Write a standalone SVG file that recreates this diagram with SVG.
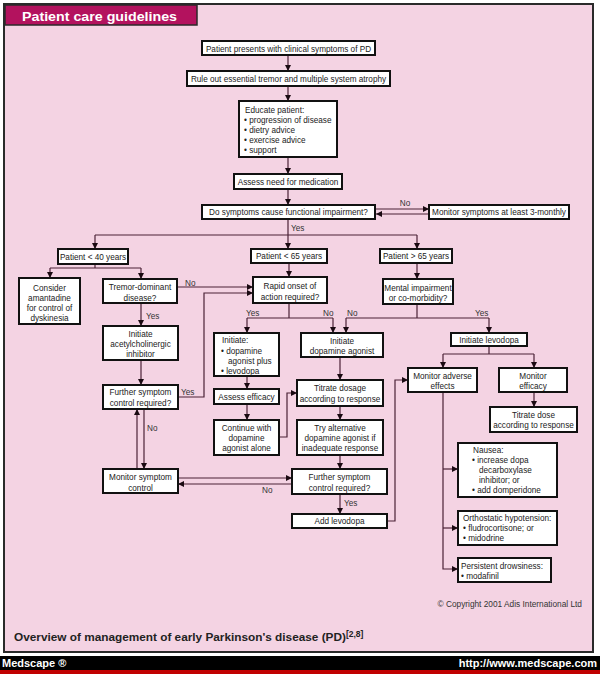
<svg xmlns="http://www.w3.org/2000/svg" width="600" height="674" viewBox="0 0 600 674">
<defs>
<marker id="ah" viewBox="0 0 6 6" refX="6" refY="3" markerWidth="6" markerHeight="6" orient="auto" markerUnits="userSpaceOnUse"><path d="M0,0 L6,3 L0,6 z" fill="#1a0a12"/></marker>
<style>
.box{fill:#fff;stroke:#111;stroke-width:2}
.t{font-family:"Liberation Sans",Arial,sans-serif;font-size:8.2px;fill:#222}
.c{text-anchor:middle}
.ln{fill:none;stroke:#4a2236;stroke-width:1.2}
.ar{marker-end:url(#ah)}
.lb{font-family:"Liberation Sans",Arial,sans-serif;font-size:8.2px;fill:#333}
</style>
</defs>
<rect x="0" y="0" width="600" height="674" fill="#fff"/>
<rect x="4" y="4" width="589" height="648" fill="#f4d3e3" stroke="#2a2a2a" stroke-width="2"/>
<g id="header">
<rect x="5" y="5" width="192" height="20" fill="#b3125e" stroke="#2a2a2a" stroke-width="1.5"/>
<text x="22" y="20.5" font-family="'Liberation Sans',Arial,sans-serif" font-size="13" font-weight="900" fill="#fff" textLength="155" lengthAdjust="spacingAndGlyphs">Patient care guidelines</text>
</g>

<g id="connectors">
<path class="ln ar" d="M288,55 V71"/>
<path class="ln ar" d="M288,86 V101"/>
<path class="ln ar" d="M288,157 V174"/>
<path class="ln ar" d="M288,189 V205"/>
<path class="ln ar" d="M376,209 H429"/>
<path class="ln ar" d="M429,214 H376"/>
<path class="ln ar" d="M288,219 V249"/>
<path class="ln" d="M95,235 H417"/>
<path class="ln ar" d="M95,235 V249"/>
<path class="ln ar" d="M417,235 V249"/>
<path class="ln" d="M95,264 V268 M50,268 H141"/>
<path class="ln ar" d="M50,268 V278"/>
<path class="ln ar" d="M141,268 V279"/>
<path class="ln ar" d="M289,263 V277"/>
<path class="ln ar" d="M417,263 V279"/>
<path class="ln ar" d="M177,287 H253"/>
<path class="ln ar" d="M178,397 H204 V293 H253"/>
<path class="ln ar" d="M141,303 V326"/>
<path class="ln ar" d="M141,360 V385"/>
<path class="ln ar" d="M137,469 V409"/>
<path class="ln ar" d="M144,409 V469"/>
<path class="ln ar" d="M178,478 H292"/>
<path class="ln ar" d="M292,484 H178"/>
<path class="ln" d="M289,303 V318 M247,318 H333"/>
<path class="ln ar" d="M247,318 V333"/>
<path class="ln ar" d="M333,318 V333"/>
<path class="ln" d="M417,304 V318 M346,318 H489"/>
<path class="ln ar" d="M346,318 V333"/>
<path class="ln ar" d="M489,318 V333"/>
<path class="ln ar" d="M247,376 V389"/>
<path class="ln ar" d="M247,404 V420"/>
<path class="ln ar" d="M279,437 H287 V393 H297"/>
<path class="ln ar" d="M340,357 V380"/>
<path class="ln ar" d="M340,406 V420"/>
<path class="ln ar" d="M340,455 V469"/>
<path class="ln ar" d="M340,494 V514"/>
<path class="ln ar" d="M387,521 H395 V380 H408"/>
<path class="ln" d="M489,346 V354 M443,354 H534"/>
<path class="ln ar" d="M443,354 V368"/>
<path class="ln ar" d="M534,354 V368"/>
<path class="ln ar" d="M534,392 V407"/>
<path class="ln ar" d="M443,392 V569 H458"/>
<path class="ln ar" d="M443,469 H458"/>
<path class="ln ar" d="M443,528 H458"/>
<text class="lb c" x="405" y="206">No</text>
<text class="lb" x="291" y="231">Yes</text>
<text class="lb" x="185" y="286">No</text>
<text class="lb" x="146" y="318.5">Yes</text>
<text class="lb" x="181" y="395">Yes</text>
<text class="lb" x="147" y="431">No</text>
<text class="lb" x="262" y="493">No</text>
<text class="lb" x="246" y="316">Yes</text>
<text class="lb" x="323" y="316">No</text>
<text class="lb" x="347" y="316">No</text>
<text class="lb" x="475" y="316">Yes</text>
<text class="lb" x="344" y="506">Yes</text>
</g>

<g id="n1"><rect class="box" x="202" y="41" width="173" height="14"/><text class="t c" x="288.5" y="51.5">Patient presents with clinical symptoms of PD</text></g>
<g id="n2"><rect class="box" x="187" y="71" width="203" height="15"/><text class="t c" x="288.5" y="81.5">Rule out essential tremor and multiple system atrophy</text></g>
<g id="n3"><rect class="box" x="239" y="101" width="98" height="56"/>
<text class="t" x="245" y="113">Educate patient:</text>
<text class="t" x="244" y="122.5">• progression of disease</text>
<text class="t" x="244" y="132.5">• dietry advice</text>
<text class="t" x="244" y="143">• exercise advice</text>
<text class="t" x="244" y="153">• support</text></g>
<g id="n4"><rect class="box" x="234" y="174" width="108" height="15"/><text class="t c" x="288" y="184.5">Assess need for medication</text></g>
<g id="n5"><rect class="box" x="202" y="205" width="173" height="14"/><text class="t c" x="288.5" y="215">Do symptoms cause functional impairment?</text></g>
<g id="n6"><rect class="box" x="429" y="205" width="140" height="14"/><text class="t c" x="499" y="215">Monitor symptoms at least 3-monthly</text></g>
<g id="n7"><rect class="box" x="58" y="249" width="70" height="15"/><text class="t c" x="93" y="259.5">Patient &lt; 40 years</text></g>
<g id="n8"><rect class="box" x="251" y="249" width="76" height="14"/><text class="t c" x="289" y="259">Patient &lt; 65 years</text></g>
<g id="n9"><rect class="box" x="380" y="249" width="72" height="14"/><text class="t c" x="416" y="259">Patient &gt; 65 years</text></g>
<g id="n10"><rect class="box" x="19" y="278" width="61" height="46"/>
<text class="t c" x="49.5" y="290.5">Consider</text>
<text class="t c" x="49.5" y="300.5">amantadine</text>
<text class="t c" x="49.5" y="310.5">for control of</text>
<text class="t c" x="49.5" y="320.5">dyskinesia</text></g>
<g id="n11"><rect class="box" x="103" y="279" width="74" height="24"/>
<text class="t c" x="140" y="290">Tremor-dominant</text>
<text class="t c" x="140" y="300.5">disease?</text></g>
<g id="n12"><rect class="box" x="253" y="277" width="74" height="26"/>
<text class="t c" x="290" y="289">Rapid onset of</text>
<text class="t c" x="290" y="300">action required?</text></g>
<g id="n13"><rect class="box" x="383" y="279" width="70" height="25"/>
<text class="t c" x="418" y="291">Mental impairment</text>
<text class="t c" x="418" y="301">or co-morbidity?</text></g>
<g id="n14"><rect class="box" x="103" y="326" width="75" height="34"/>
<text class="t c" x="140.5" y="336.5">Initiate</text>
<text class="t c" x="140.5" y="346.5">acetylcholinergic</text>
<text class="t c" x="140.5" y="356.5">inhibitor</text></g>
<g id="n15"><rect class="box" x="103" y="385" width="75" height="24"/>
<text class="t c" x="140.5" y="395">Further symptom</text>
<text class="t c" x="140.5" y="406">control required?</text></g>
<g id="n16"><rect class="box" x="103" y="469" width="75" height="24"/>
<text class="t c" x="140.5" y="480">Monitor symptom</text>
<text class="t c" x="140.5" y="490.5">control</text></g>
<g id="n17"><rect class="box" x="214" y="333" width="65" height="43"/>
<text class="t" x="222" y="343">Initiate:</text>
<text class="t" x="221" y="354">• dopamine</text>
<text class="t" x="228" y="364">agonist plus</text>
<text class="t" x="221" y="374">• levodopa</text></g>
<g id="n18"><rect class="box" x="214" y="389" width="65" height="15"/><text class="t c" x="246.5" y="399.5">Assess efficacy</text></g>
<g id="n19"><rect class="box" x="214" y="420" width="65" height="35"/>
<text class="t c" x="246.5" y="431">Continue with</text>
<text class="t c" x="246.5" y="441">dopamine</text>
<text class="t c" x="246.5" y="451">agonist alone</text></g>
<g id="n20"><rect class="box" x="301" y="333" width="82" height="24"/>
<text class="t c" x="342" y="344">Initiate</text>
<text class="t c" x="342" y="354">dopamine agonist</text></g>
<g id="n21"><rect class="box" x="297" y="380" width="86" height="26"/>
<text class="t c" x="340" y="391">Titrate dosage</text>
<text class="t c" x="340" y="402">according to response</text></g>
<g id="n22"><rect class="box" x="297" y="420" width="86" height="35"/>
<text class="t c" x="340" y="430.5">Try alternative</text>
<text class="t c" x="340" y="440.5">dopamine agonist if</text>
<text class="t c" x="340" y="450.5">inadequate response</text></g>
<g id="n23"><rect class="box" x="292" y="469" width="95" height="25"/>
<text class="t c" x="339.5" y="480">Further symptom</text>
<text class="t c" x="339.5" y="490.5">control required?</text></g>
<g id="n24"><rect class="box" x="292" y="514" width="95" height="14"/><text class="t c" x="339.5" y="524">Add levodopa</text></g>
<g id="n25"><rect class="box" x="451" y="333" width="76" height="13"/><text class="t c" x="489" y="343">Initiate levodopa</text></g>
<g id="n26"><rect class="box" x="408" y="368" width="69" height="24"/>
<text class="t c" x="442.5" y="378.5">Monitor adverse</text>
<text class="t c" x="442.5" y="388.5">effects</text></g>
<g id="n27"><rect class="box" x="499" y="368" width="68" height="24"/>
<text class="t c" x="533" y="378.5">Monitor</text>
<text class="t c" x="533" y="388.5">efficacy</text></g>
<g id="n28"><rect class="box" x="490" y="407" width="87" height="25"/>
<text class="t c" x="533.5" y="417.5">Titrate dose</text>
<text class="t c" x="533.5" y="427.5">according to response</text></g>
<g id="n29"><rect class="box" x="458" y="443" width="99" height="54"/>
<text class="t" x="473" y="453">Nausea:</text>
<text class="t" x="472" y="463">• increase dopa</text>
<text class="t" x="479" y="473">decarboxylase</text>
<text class="t" x="479" y="483">inhibitor; or</text>
<text class="t" x="472" y="493">• add domperidone</text></g>
<g id="n30"><rect class="box" x="458" y="511" width="99" height="34"/>
<text class="t" x="463" y="520.5">Orthostatic hypotension:</text>
<text class="t" x="463" y="531">• fludrocortisone; or</text>
<text class="t" x="463" y="541">• midodrine</text></g>
<g id="n31"><rect class="box" x="458" y="558" width="93" height="24"/>
<text class="t" x="461" y="569">Persistent drowsiness:</text>
<text class="t" x="461" y="579">• modafinil</text></g>

<g id="footer">
<text x="582" y="607" font-family="'Liberation Sans',Arial,sans-serif" font-size="8.3" fill="#333" text-anchor="end">© Copyright 2001 Adis International Ltd</text>
<text x="14" y="640.5" font-family="'Liberation Sans',Arial,sans-serif" font-size="11.8" font-weight="bold" fill="#222">Overview of management of early Parkinson's disease (PD)<tspan font-size="8.5" dy="-4">[2,8]</tspan></text>
<rect x="0" y="656" width="600" height="14" fill="#000"/>
<rect x="0" y="670" width="600" height="4" fill="#c00000"/>
<text x="2" y="667" font-family="'Liberation Sans',Arial,sans-serif" font-size="11" font-weight="bold" fill="#fff">Medscape ®</text>
<text x="597" y="667" font-family="'Liberation Sans',Arial,sans-serif" font-size="11" font-weight="bold" fill="#fff" text-anchor="end">http://www.medscape.com</text>
</g>
</svg>
